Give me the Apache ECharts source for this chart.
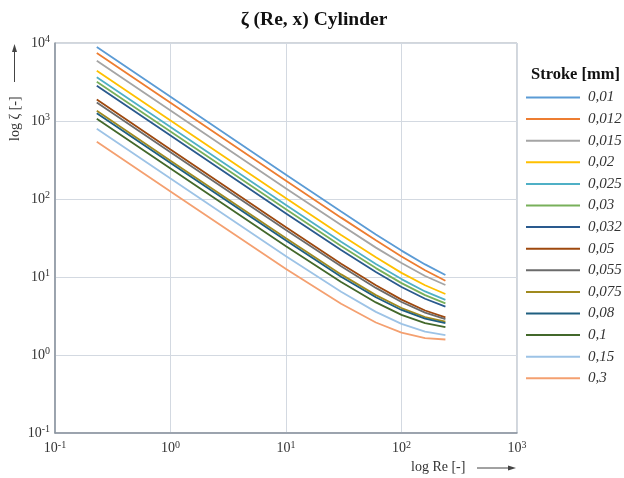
<!DOCTYPE html>
<html>
<head>
<meta charset="utf-8">
<script src="https://cdn.jsdelivr.net/npm/echarts@6/dist/echarts.min.js"></script>
<style>
  html, body, #main { width: 624px; height: 478px; margin: 0; background: #fff; }
</style>
</head>
<body>
<div id="main"></div>
<script>
var reValues = [0.23, 1, 10, 30, 60, 100, 160, 240];

var strokes = ['0,01', '0,012', '0,015', '0,02', '0,025', '0,03', '0,032',
               '0,05', '0,055', '0,075', '0,08', '0,1', '0,15', '0,3'];

var zeta001  = [8900, 2047, 205, 68.9, 35.1, 21.8, 14.5, 10.6];
var zeta0012 = [7450, 1713, 171.7, 57.7, 29.5, 18.3, 12.2, 8.97];
var zeta0015 = [5930, 1364, 136.8, 46.3, 23.8, 15.1, 10.3, 7.9];
var zeta002  = [4420, 1017, 102, 34.5, 17.9, 11.3, 7.84, 6.05];
var zeta0025 = [3630, 835, 83.8, 28.4, 14.7, 9.4, 6.53, 5.08];
var zeta003  = [3190, 734, 73.7, 25, 13, 8.34, 5.85, 4.6];
var zeta0032 = [2830, 651, 65.4, 22.2, 11.6, 7.45, 5.26, 4.16];
var zeta005  = [1880, 432, 43.5, 14.8, 7.82, 5.13, 3.72, 3.04];
var zeta0055 = [1730, 398, 40, 13.7, 7.25, 4.78, 3.5, 2.89];
var zeta0075 = [1350, 310, 31.3, 10.8, 5.86, 4.0, 3.07, 2.67];
var zeta008  = [1260, 290, 29.3, 10.1, 5.51, 3.78, 2.93, 2.57];
var zeta01   = [1070, 246, 24.85, 8.63, 4.72, 3.27, 2.56, 2.27];
var zeta015  = [797, 183, 18.5, 6.46, 3.57, 2.51, 1.99, 1.8];
var zeta03   = [543, 125, 12.7, 4.54, 2.61, 1.94, 1.65, 1.58];

var zetaAll = [zeta001, zeta0012, zeta0015, zeta002, zeta0025, zeta003, zeta0032,
               zeta005, zeta0055, zeta0075, zeta008, zeta01, zeta015, zeta03];

var colors = ['#5b9bd5', '#ed7d31', '#a5a5a5', '#ffc000', '#4fb0c6', '#78b05a', '#2a5a8e',
              '#9e480e', '#6b6b6b', '#a08a1e', '#1f5f80', '#43682b', '#9dc3e6', '#f4a070'];

// tick label exponents
var xTickExps = [-1, 0, 1, 2, 3];
var yTickExps = [-1, 0, 1, 2, 3, 4];

var serif = 'Liberation Serif';

function powLabel(v) {
    var e = Math.round(Math.log(v) / Math.LN10);
    return '{b|10}{s|' + e + '}';
}
var richPow = {
    b: { fontSize: 14, fontFamily: serif, color: '#333', lineHeight: 17 },
    s: { fontSize: 10, fontFamily: serif, color: '#333', verticalAlign: 'top', lineHeight: 10 }
};

var chart = echarts.init(document.getElementById('main'));

var series = strokes.map(function (name, i) {
    return {
        name: name,
        type: 'line',
        symbol: 'none',
        color: colors[i],
        lineStyle: { width: 1.8, color: colors[i] },
        data: reValues.map(function (re, j) { return [re, zetaAll[i][j]]; })
    };
});

chart.setOption({
    animation: false,
    title: [{
        text: 'ζ (Re, x) Cylinder',
        left: 309,
        top: 5,
        textAlign: 'center',
        textStyle: { fontFamily: serif, fontSize: 19.5, fontWeight: 'bold', color: '#111' }
    }, {
        text: 'Stroke [mm]',
        left: 526,
        top: 61,
        textStyle: { fontFamily: serif, fontSize: 16.5, fontWeight: 'bold', color: '#111' }
    }],
    legend: {
        orient: 'vertical',
        left: 521,
        top: 85,
        icon: 'rect',
        itemWidth: 54,
        itemHeight: 2,
        itemGap: 6.6,
        data: strokes,
        textStyle: { fontFamily: serif, fontSize: 15, fontStyle: 'italic', color: '#333',
                     lineHeight: 15, padding: [0, 0, 0, 3] }
    },
    grid: {
        left: 55, top: 43, right: 107, bottom: 45,
        show: true,
        borderColor: '#a4acb6',
        borderWidth: 1
    },
    xAxis: {
        type: 'log',
        logBase: 10,
        min: Math.pow(10, xTickExps[0]),
        max: Math.pow(10, xTickExps[xTickExps.length - 1]),
        axisLine: { lineStyle: { color: '#8a939e', width: 1.5 } },
        axisTick: { show: false },
        axisLabel: { margin: 7, formatter: powLabel, rich: richPow },
        splitLine: { lineStyle: { color: '#d3d9e1', width: 1 } }
    },
    yAxis: {
        type: 'log',
        logBase: 10,
        min: Math.pow(10, yTickExps[0]),
        max: Math.pow(10, yTickExps[yTickExps.length - 1]),
        axisLine: { show: true, lineStyle: { color: '#8a939e', width: 1.5 } },
        axisTick: { show: false },
        axisLabel: { margin: 5, formatter: powLabel, rich: richPow },
        splitLine: { lineStyle: { color: '#d3d9e1', width: 1 } }
    },
    graphic: [
        {
            type: 'text', x: 411, y: 460,
            style: { text: 'log Re [-]', fontFamily: serif, fontSize: 14, fill: '#333' }
        },
        {
            type: 'line', shape: { x1: 477, y1: 468, x2: 512, y2: 468 },
            style: { stroke: '#444', lineWidth: 1 }
        },
        {
            type: 'polygon', shape: { points: [[516, 468], [508, 465.5], [508, 470.5]] },
            style: { fill: '#444' }
        },
        {
            type: 'text', x: 8, y: 141, rotation: Math.PI / 2,
            style: { text: 'log ζ [-]', fontFamily: serif, fontSize: 14, fill: '#333' }
        },
        {
            type: 'line', shape: { x1: 14.5, y1: 82, x2: 14.5, y2: 48 },
            style: { stroke: '#444', lineWidth: 1 }
        },
        {
            type: 'polygon', shape: { points: [[14.5, 44], [12, 52], [17, 52]] },
            style: { fill: '#444' }
        }
    ],
    series: series
});
</script>
</body>
</html>
